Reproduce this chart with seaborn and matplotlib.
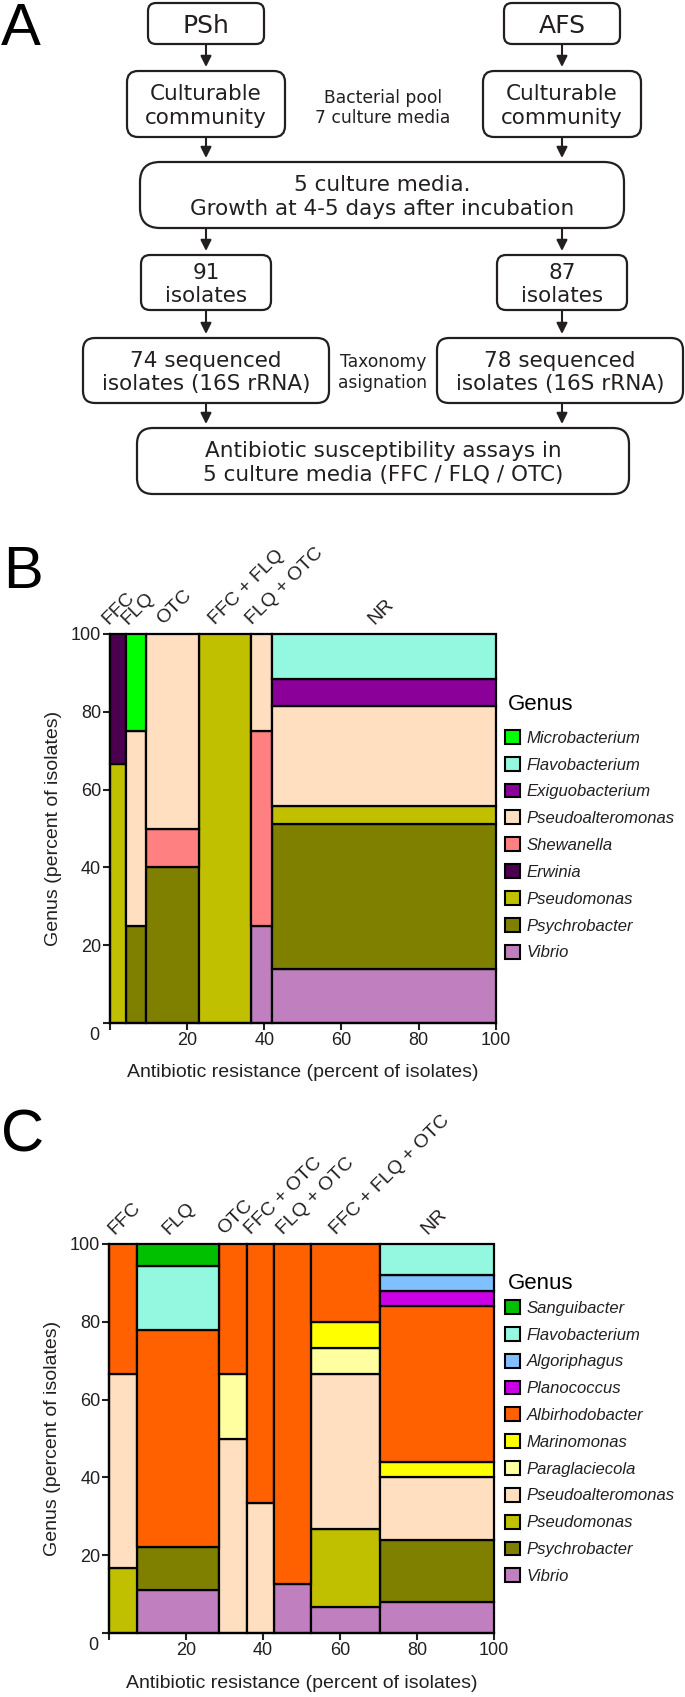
import matplotlib
matplotlib.use("Agg")
import matplotlib.pyplot as plt
import seaborn as sns
import numpy as np
from matplotlib.patches import FancyBboxPatch, Patch
from matplotlib.transforms import offset_copy
from matplotlib.font_manager import FontProperties

# ---------------- data ----------------
B_categories = ["FFC", "FLQ", "OTC", "FFC + FLQ", "FLQ + OTC", "NR"]
B_genera = ["Microbacterium", "Flavobacterium", "Exiguobacterium", "Pseudoalteromonas",
            "Shewanella", "Erwinia", "Pseudomonas", "Psychrobacter", "Vibrio"]
B_Microbacterium = [0, 1, 0, 0, 0, 0]
B_Flavobacterium = [0, 0, 0, 0, 0, 5]
B_Exiguobacterium = [0, 0, 0, 0, 0, 3]
B_Pseudoalteromonas = [0, 2, 5, 0, 1, 11]
B_Shewanella = [0, 0, 1, 0, 2, 0]
B_Erwinia = [1, 0, 0, 0, 0, 0]
B_Pseudomonas = [2, 0, 0, 10, 0, 2]
B_Psychrobacter = [0, 1, 4, 0, 0, 16]
B_Vibrio = [0, 0, 0, 0, 1, 6]

C_categories = ["FFC", "FLQ", "OTC", "FFC + OTC", "FLQ + OTC", "FFC + FLQ + OTC", "NR"]
C_genera = ["Sanguibacter", "Flavobacterium", "Algoriphagus", "Planococcus", "Albirhodobacter",
            "Marinomonas", "Paraglaciecola", "Pseudoalteromonas", "Pseudomonas",
            "Psychrobacter", "Vibrio"]
C_Sanguibacter = [0, 1, 0, 0, 0, 0, 0]
C_Flavobacterium = [0, 3, 0, 0, 0, 0, 2]
C_Algoriphagus = [0, 0, 0, 0, 0, 0, 1]
C_Planococcus = [0, 0, 0, 0, 0, 0, 1]
C_Albirhodobacter = [2, 10, 2, 4, 7, 3, 10]
C_Marinomonas = [0, 0, 0, 0, 0, 1, 1]
C_Paraglaciecola = [0, 0, 1, 0, 0, 1, 0]
C_Pseudoalteromonas = [3, 0, 3, 2, 0, 6, 4]
C_Pseudomonas = [1, 0, 0, 0, 0, 3, 0]
C_Psychrobacter = [0, 2, 0, 0, 0, 0, 4]
C_Vibrio = [0, 2, 0, 0, 1, 1, 2]

B_counts = {"Microbacterium": B_Microbacterium, "Flavobacterium": B_Flavobacterium,
            "Exiguobacterium": B_Exiguobacterium, "Pseudoalteromonas": B_Pseudoalteromonas,
            "Shewanella": B_Shewanella, "Erwinia": B_Erwinia, "Pseudomonas": B_Pseudomonas,
            "Psychrobacter": B_Psychrobacter, "Vibrio": B_Vibrio}
C_counts = {"Sanguibacter": C_Sanguibacter, "Flavobacterium": C_Flavobacterium,
            "Algoriphagus": C_Algoriphagus, "Planococcus": C_Planococcus,
            "Albirhodobacter": C_Albirhodobacter, "Marinomonas": C_Marinomonas,
            "Paraglaciecola": C_Paraglaciecola, "Pseudoalteromonas": C_Pseudoalteromonas,
            "Pseudomonas": C_Pseudomonas, "Psychrobacter": C_Psychrobacter, "Vibrio": C_Vibrio}

palette = {
    "Microbacterium": "#00FF00", "Sanguibacter": "#00C000",
    "Flavobacterium": "#94F8E0", "Exiguobacterium": "#8B0099",
    "Algoriphagus": "#80C0FF", "Planococcus": "#CC00E6",
    "Albirhodobacter": "#FF6000", "Marinomonas": "#FFFF00",
    "Paraglaciecola": "#FFFFA0", "Pseudoalteromonas": "#FFDFC0",
    "Shewanella": "#FF8080", "Erwinia": "#4B004F",
    "Pseudomonas": "#C0C000", "Psychrobacter": "#808000", "Vibrio": "#C080C0",
}

# ---------------- style ----------------
sns.set_style("ticks")
plt.rcParams["font.family"] = ["Liberation Sans", "DejaVu Sans"]
TXT = "#231f20"
FLOW_FONT = ["DejaVu Sans"]

W, H = 685, 1697
fig = plt.figure(figsize=(W / 100, H / 100), dpi=100)

# ---------------- panel A: flowchart ----------------
ax0 = fig.add_axes([0, 0, 1, 1])
ax0.set_xlim(0, W)
ax0.set_ylim(H, 0)
ax0.axis("off")
ax0.patch.set_alpha(0)


def rbox(x0, x1, y0, y1, r, lines, fs=15.5, gap=23.5):
    p = FancyBboxPatch((x0, y0), x1 - x0, y1 - y0,
                       boxstyle=f"round,pad=0,rounding_size={r}",
                       fc="white", ec=TXT, lw=1.6)
    ax0.add_patch(p)
    cy = (y0 + y1) / 2
    n = len(lines)
    for i, t in enumerate(lines):
        yy = cy + (i - (n - 1) / 2) * gap
        ax0.text((x0 + x1) / 2, yy, t, ha="center", va="center_baseline", fontsize=fs,
                 color=TXT, family=FLOW_FONT)


def arrow(x, y0, y1):
    ax0.annotate("", xy=(x, y1), xytext=(x, y0),
                 arrowprops=dict(arrowstyle="-|>", lw=1.5, color=TXT,
                                 mutation_scale=16, shrinkA=0, shrinkB=0))


LX, RX = 206, 562
rbox(148, 264, 3, 44, 8, ["PSh"], fs=18)
rbox(504, 620, 3, 44, 8, ["AFS"], fs=18)
rbox(127, 285, 71, 137, 11, ["Culturable", "community"])
rbox(483, 641, 71, 137, 11, ["Culturable", "community"])
rbox(140, 624, 162, 228, 20, ["5 culture media.", "Growth at 4-5 days after incubation"])
rbox(141, 271, 255, 310, 9, ["91", "isolates"])
rbox(497, 627, 255, 310, 9, ["87", "isolates"])
rbox(83, 329, 338, 403, 12, ["74 sequenced", "isolates (16S rRNA)"])
rbox(437, 683, 338, 403, 12, ["78 sequenced", "isolates (16S rRNA)"])
rbox(137, 629, 428, 494, 16, ["Antibiotic susceptibility assays in",
                              "5 culture media (FFC / FLQ / OTC)"])
ax0.text(383, 96, "Bacterial pool", ha="center", va="center_baseline", fontsize=12.3,
         color=TXT, family=FLOW_FONT)
ax0.text(383, 116, "7 culture media", ha="center", va="center_baseline", fontsize=12.3,
         color=TXT, family=FLOW_FONT)
ax0.text(383, 360, "Taxonomy", ha="center", va="center_baseline", fontsize=12.3,
         color=TXT, family=FLOW_FONT)
ax0.text(383, 381, "asignation", ha="center", va="center_baseline", fontsize=12.3,
         color=TXT, family=FLOW_FONT)
for x in (LX, RX):
    arrow(x, 44, 67)
    arrow(x, 137, 158)
    arrow(x, 228, 251)
    arrow(x, 310, 334)
    arrow(x, 403, 424)

ax0.text(1, 45, "A", fontsize=43, ha="left", va="baseline", color="black")
ax0.text(3, 588, "B", fontsize=43, ha="left", va="baseline", color="black")
ax0.text(1, 1151, "C", fontsize=43, ha="left", va="baseline", color="black")


# ---------------- mosaic panels ----------------
def mosaic(rect, categories, genera, counts, title_y, legend_top, xlabel_y):
    ax = fig.add_axes(rect)
    df_tot = np.sum([counts[g] for g in genera], axis=0)
    widths = df_tot / df_tot.sum() * 100
    lefts = np.concatenate([[0], np.cumsum(widths)[:-1]])
    bottoms = np.zeros(len(categories))
    for g in genera[::-1]:
        pct = np.array(counts[g]) / df_tot * 100
        m = pct > 0
        ax.bar(lefts[m], pct[m], width=widths[m], bottom=bottoms[m], align="edge",
               color=palette[g], edgecolor="black", linewidth=1.6, clip_on=False, zorder=2)
        bottoms = bottoms + pct
    ax.set_xlim(0, 100)
    ax.set_ylim(0, 100)
    ax.set_xticks([0, 20, 40, 60, 80, 100])
    ax.set_xticklabels(["", "20", "40", "60", "80", "100"])
    ax.set_yticks([0, 20, 40, 60, 80, 100])
    ax.set_yticklabels(["", "20", "40", "60", "80", "100"])
    ax.tick_params(axis="both", length=5, width=1.5, pad=1.5, labelsize=13,
                   colors=TXT, direction="out")
    for s in ("top", "right"):
        ax.spines[s].set_visible(False)
    for s in ("left", "bottom"):
        ax.spines[s].set_linewidth(1.6)
        ax.spines[s].set_color("black")
    ax.annotate("0", xy=(0, 0), xycoords="data", xytext=(-16, -13),
                textcoords="offset pixels", ha="center", va="center",
                fontsize=13, color=TXT)
    ax.set_xlabel("Antibiotic resistance (percent of isolates)", fontsize=14, color=TXT)
    ax.set_ylabel("Genus (percent of isolates)", fontsize=14, color=TXT)
    ax.xaxis.set_label_coords(0.5, xlabel_y)
    ax.yaxis.set_label_coords(-0.125, 0.5)
    trans = offset_copy(ax.transData, fig=fig, x=-9, y=9, units="dots")
    for c, l, w in zip(categories, lefts, widths):
        ax.text(l + w / 2, 100, c, rotation=45, rotation_mode="anchor", ha="left",
                va="baseline", fontsize=14, color=TXT, transform=trans, clip_on=False)
    handles = [Patch(facecolor=palette[g], edgecolor="black", linewidth=1.5, label=g)
               for g in genera]
    leg = ax.legend(handles=handles, loc="upper left",
                    bbox_to_anchor=(505 / W, 1 - legend_top / H),
                    bbox_transform=fig.transFigure, frameon=False,
                    prop=FontProperties(family=["Liberation Sans"], style="italic", size=12),
                    handlelength=0.9, handleheight=0.9, handletextpad=0.4,
                    labelspacing=0.67, borderpad=0, borderaxespad=0)
    for t in leg.get_texts():
        t.set_color(TXT)
    ax0.text(508, title_y, "Genus", fontsize=16, ha="left", va="center_baseline",
             color="black")
    return ax


mosaic([110 / W, 1 - 1023 / H, 385.7 / W, 389 / H], B_categories, B_genera, B_counts,
       702, 730, -0.105)
mosaic([109.3 / W, 1 - 1633 / H, 384.7 / W, 389 / H], C_categories, C_genera, C_counts,
       1281, 1300, -0.108)

fig.savefig("out.png", dpi=100)
